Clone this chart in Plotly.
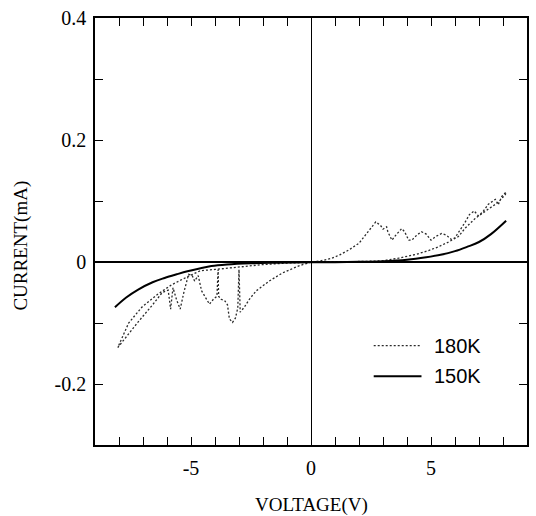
import plotly.graph_objects as go

# I-V sweep at 180 K (closed hysteresis loop, traced in measurement order)
v_180k = [0, -0.5, -1.2, -1.74, -2.28, -2.57, -2.78, -2.95,
          -3.0, -3.05, -3.15, -3.27, -3.4, -3.48, -3.6, -3.75, -3.85, -3.87, -3.92,
          -4.05, -4.23, -4.4, -4.56, -4.7, -4.85, -4.95, -5.1, -5.3, -5.45, -5.6,
          -5.75, -5.85, -5.95, -6.2, -6.6, -7.2, -7.6, -8.05,
          -7.6, -7.05, -6.4, -5.8, -5.1, -4.6, -4.0, -3.5, -3.0, -2.0, -1.0, 0,
          1, 2, 2.95, 3.65, 4.07, 4.4, 4.9, 5.3, 5.73, 6.14, 6.43, 6.85, 7.39, 7.8, 8.1,
          8.13, 7.95, 7.8, 7.68, 7.39, 7.15, 6.97, 6.8, 6.6, 6.4, 6.27, 6.0, 5.85,
          5.65, 5.44, 5.2, 5.0, 4.8, 4.6, 4.4, 4.2, 4.07, 3.9, 3.78, 3.55, 3.37,
          3.2, 3.15, 3.0, 2.9, 2.7, 2.5, 2.28, 2.0, 1.58, 1.2, 0.87, 0.4, 0]
i_180k = [0, -0.006, -0.018, -0.031, -0.047, -0.061, -0.074, -0.082,
          -0.012, -0.075, -0.092, -0.099, -0.093, -0.07, -0.063, -0.061, -0.056, -0.012, -0.056,
          -0.06, -0.069, -0.058, -0.047, -0.022, -0.031, -0.022, -0.02, -0.05, -0.077, -0.062,
          -0.042, -0.077, -0.046, -0.05, -0.07, -0.098, -0.118, -0.14,
          -0.10, -0.074, -0.053, -0.037, -0.023, -0.014, -0.012, -0.01, -0.008, -0.004, -0.0015, 0,
          0.0005, 0.001, 0.002, 0.0065, 0.0097, 0.013, 0.019, 0.025, 0.033, 0.042, 0.056, 0.072, 0.087, 0.098, 0.111,
          0.115, 0.108, 0.094, 0.103, 0.095, 0.082, 0.076, 0.084, 0.078, 0.064, 0.056, 0.04, 0.037,
          0.044, 0.047, 0.042, 0.036, 0.046, 0.05, 0.044, 0.036, 0.036, 0.05, 0.055, 0.045, 0.036,
          0.05, 0.058, 0.054, 0.06, 0.066, 0.056, 0.044, 0.031, 0.02, 0.012, 0.0065, 0.002, 0]

# I-V curve at 150 K
v_150k = [-8.17, -7.7, -7.2, -6.6, -6.1, -5.6, -5.15, -4.6, -4.15, -3.5, -2.5, -1.5, 0,
          1, 2, 3, 4, 4.8, 5.4, 6, 6.5, 7, 7.5, 8.13]
i_150k = [-0.074, -0.058, -0.045, -0.033, -0.026, -0.02, -0.015, -0.01, -0.0065, -0.004, -0.002, -0.001, 0,
          0, 0.0005, 0.0015, 0.004, 0.008, 0.012, 0.018, 0.025, 0.033, 0.046, 0.068]

x_ticks = list(range(-8, 9))
x_tick_text = ["-5" if v == -5 else "0" if v == 0 else "5" if v == 5 else "" for v in x_ticks]
y_ticks = [-0.2, -0.1, 0, 0.1, 0.2, 0.3, 0.4]
y_tick_text = ["-0.2", "", "0", "", "0.2", "", "0.4"]

series_names = ["180K", "150K"]

W, H = 536, 516
L, R, T, B = 95, 7, 11, 71
pw, ph = W - L - R, H - T - B


def px(x):
    return (x - L) / pw


def py(y):
    return (H - B - y) / ph


serif = "Liberation Serif"
sans = "Liberation Sans"

fig = go.Figure()
fig.add_trace(go.Scatter(x=v_180k, y=i_180k, mode="lines", name=series_names[0],
                         line=dict(color="#2a2a2a", width=1.3, dash="2px,2px"),
                         showlegend=False))
fig.add_trace(go.Scatter(x=v_150k, y=i_150k, mode="lines", name=series_names[1],
                         line=dict(color="black", width=2), line_shape="spline",
                         showlegend=False))

axis_common = dict(showline=True, linecolor="black", linewidth=1.5, mirror="allticks",
                   ticks="inside", ticklen=8, tickwidth=1, tickcolor="black",
                   showgrid=False, zeroline=True, zerolinecolor="black",
                   tickfont=dict(family=serif, size=20, color="black"))

fig.update_xaxes(range=[-9, 9], tickmode="array", tickvals=x_ticks, ticktext=x_tick_text,
                 zerolinewidth=1, ticklabelstandoff=4, **axis_common)
fig.update_yaxes(range=[-0.3, 0.4005], tickmode="array", tickvals=y_ticks, ticktext=y_tick_text,
                 zerolinewidth=1.5, ticklabelstandoff=3, **axis_common)

# legend keys
fig.add_shape(type="line", xref="paper", yref="paper", x0=px(375), x1=px(423), y0=py(344), y1=py(344),
              line=dict(color="#2a2a2a", width=1.3, dash="2px,2px"))
fig.add_shape(type="line", xref="paper", yref="paper", x0=px(375), x1=px(423), y0=py(375), y1=py(375),
              line=dict(color="black", width=2))
for name, yy in zip(series_names, [344, 375]):
    fig.add_annotation(text=name, xref="paper", yref="paper", x=px(434), y=py(yy),
                       xanchor="left", yanchor="middle", showarrow=False,
                       font=dict(family=sans, size=20, color="black"))

# axis titles
fig.add_annotation(text="VOLTAGE(V)", xref="paper", yref="paper", x=px(312), y=py(506),
                   xanchor="center", yanchor="middle", showarrow=False,
                   font=dict(family=serif, size=19, color="black"))
fig.add_annotation(text="CURRENT(mA)", xref="paper", yref="paper", x=px(21), y=py(242),
                   xanchor="center", yanchor="middle", textangle=-90, showarrow=False,
                   font=dict(family=serif, size=19, color="black"))

fig.update_layout(width=W, height=H, margin=dict(l=L, r=R, t=T, b=B),
                  font=dict(family=serif, color="black"),
                  paper_bgcolor="white", plot_bgcolor="white", showlegend=False)

fig.write_html("out.html")
